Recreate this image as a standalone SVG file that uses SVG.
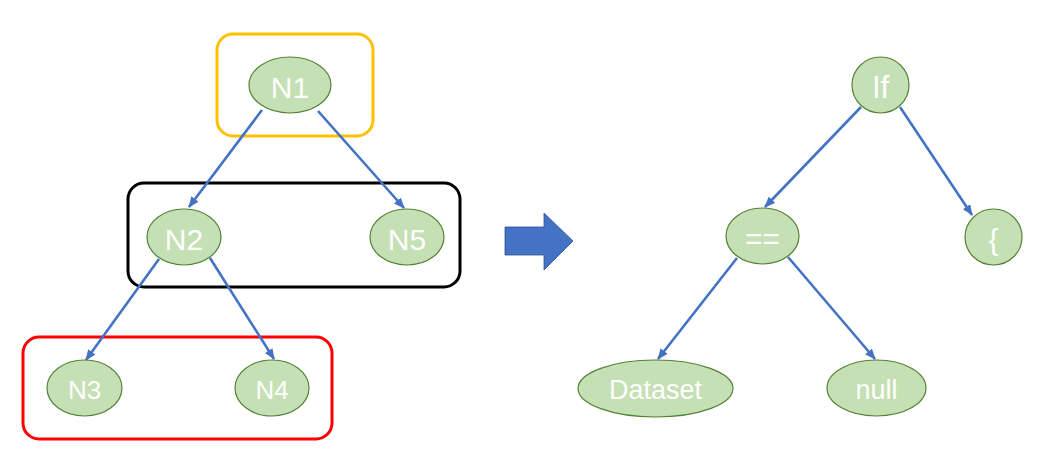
<svg xmlns="http://www.w3.org/2000/svg" width="1043" height="459" viewBox="0 0 1043 459">
<defs>
<marker id="ah" markerWidth="11" markerHeight="9" refX="10" refY="4.5" orient="auto" markerUnits="userSpaceOnUse">
<path d="M0,0 L11,4.5 L0,9 Z" fill="#4472C4"/>
</marker>
<style>
.node{fill:#C5E0B4;stroke:#548235;stroke-width:1.2}
.lbl{fill:#FFFFFF;font-family:"Liberation Sans","Noto Sans",sans-serif;text-anchor:middle;dominant-baseline:central}
.edge{stroke:#4472C4;stroke-width:2.6;fill:none;marker-end:url(#ah)}
.box{fill:none;stroke-width:3}
</style>
</defs>
<rect width="1043" height="459" fill="#FFFFFF"/>
<g id="groups">
<rect id="box-yellow" class="box" x="217" y="34" width="156" height="102" rx="16" stroke="#FFC000"/>
<rect id="box-black" class="box" x="128" y="183" width="332" height="104" rx="16" stroke="#000000"/>
<rect id="box-red" class="box" x="23" y="337" width="309" height="102" rx="16" stroke="#FF0000"/>
</g>
<g id="connectors">
<line class="edge" x1="262" y1="110" x2="189" y2="207"/>
<line class="edge" x1="318" y1="111" x2="404" y2="208"/>
<line class="edge" x1="159" y1="259" x2="86" y2="360"/>
<line class="edge" x1="210" y1="258" x2="274" y2="359"/>
<line class="edge" x1="861" y1="107" x2="765" y2="207"/>
<line class="edge" x1="900" y1="107" x2="972" y2="215"/>
<line class="edge" x1="737" y1="258" x2="658" y2="359"/>
<line class="edge" x1="788" y1="257" x2="875" y2="359"/>
</g>
<g id="transform-arrow">
<path d="M505,227 L544,227 L544,213 L573,241 L544,270 L544,255 L505,255 Z" fill="#4472C4" stroke="#2F528F" stroke-width="0.8"/>
</g>
<g id="N1"><ellipse class="node" cx="290" cy="85" rx="41" ry="28"/><text class="lbl" x="290" y="87" font-size="30">N1</text></g>
<g id="N2"><ellipse class="node" cx="184" cy="237" rx="37" ry="28"/><text class="lbl" x="184" y="239" font-size="30">N2</text></g>
<g id="N5"><ellipse class="node" cx="407" cy="237" rx="37" ry="28"/><text class="lbl" x="407" y="239" font-size="30">N5</text></g>
<g id="N3"><ellipse class="node" cx="84.5" cy="388" rx="37.5" ry="28"/><text class="lbl" x="84.5" y="390" font-size="26">N3</text></g>
<g id="N4"><ellipse class="node" cx="272" cy="388" rx="37" ry="28"/><text class="lbl" x="272" y="390" font-size="26">N4</text></g>
<g id="If"><ellipse class="node" cx="880.5" cy="85" rx="28.5" ry="28"/><text class="lbl" x="880.5" y="87" font-size="31">If</text></g>
<g id="eq"><ellipse class="node" cx="762.5" cy="236" rx="36.5" ry="28"/><text class="lbl" x="762.5" y="238" font-size="30">==</text></g>
<g id="brace"><ellipse class="node" cx="993.5" cy="237" rx="28.5" ry="28"/><text class="lbl" x="993.5" y="239" font-size="30">{</text></g>
<g id="Dataset"><ellipse class="node" cx="655.5" cy="388.5" rx="77.5" ry="28.5"/><text class="lbl" x="655.5" y="390" font-size="27">Dataset</text></g>
<g id="null"><ellipse class="node" cx="876.5" cy="388" rx="49.5" ry="28"/><text class="lbl" x="876.5" y="390" font-size="27">null</text></g>
</svg>
